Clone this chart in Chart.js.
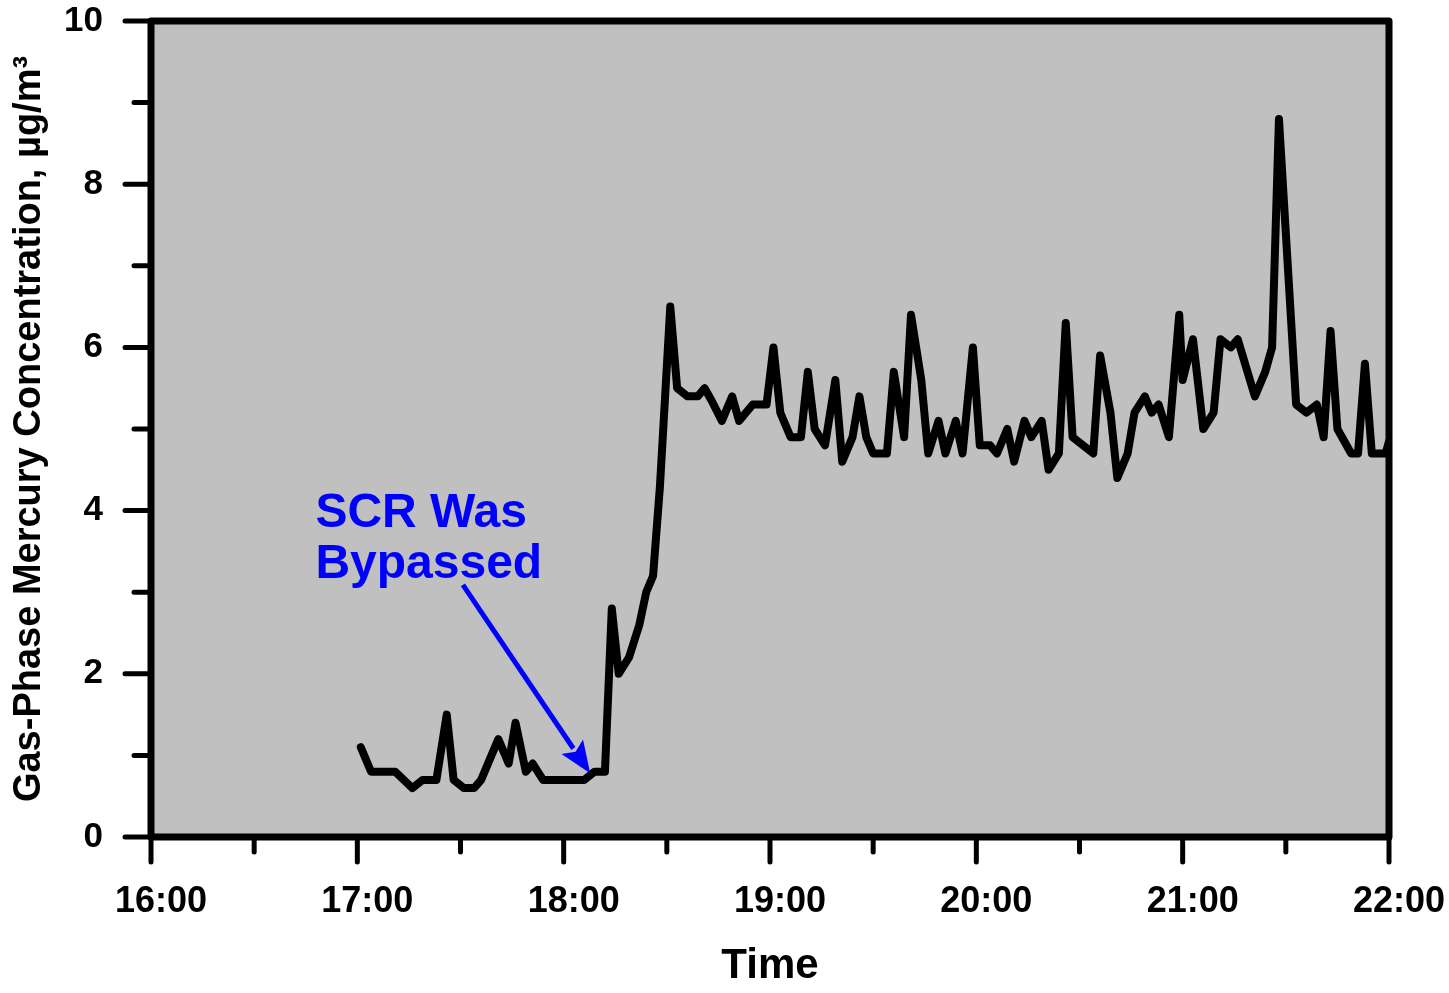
<!DOCTYPE html>
<html>
<head>
<meta charset="utf-8">
<script src="https://cdn.jsdelivr.net/npm/chart.js@4.4.1/dist/chart.umd.min.js"></script>
<style>
    html, body { margin: 0; padding: 0; background: #ffffff; }
    #wrap { width: 1449px; height: 993px; }
</style>
</head>
<body>
<div id="wrap"><canvas id="mercuryChart" width="1449" height="993"></canvas></div>
<script>
// Ölçüm zamanları (saat:dakika)
const times = ['17:01','17:04','17:11','17:16','17:19','17:23','17:26','17:28','17:31','17:34',
    '17:36','17:41','17:44','17:46','17:49','17:51','17:54','18:06','18:09','18:12',
    '18:14','18:16','18:19','18:22','18:24','18:26','18:28','18:31','18:33','18:36',
    '18:39','18:41','18:43','18:46','18:49','18:51','18:55','18:59','19:01','19:03',
    '19:06','19:09','19:11','19:13','19:16','19:19','19:21','19:24','19:26','19:28',
    '19:30','19:34','19:36','19:39','19:41','19:44','19:46','19:49','19:51','19:54',
    '19:56','19:59','20:01','20:04','20:06','20:09','20:11','20:14','20:16','20:19',
    '20:21','20:24','20:26','20:28','20:34','20:36','20:39','20:41','20:44','20:46',
    '20:49','20:51','20:53','20:56','20:59','21:00','21:03','21:06','21:09','21:11',
    '21:14','21:16','21:21','21:24','21:26','21:28','21:31','21:33','21:36','21:39',
    '21:41','21:43','21:45','21:49','21:51','21:53','21:55','21:59','22:00'];

// Gaz fazı cıva konsantrasyonu, µg/m3
const mercury = [1.1,0.8,0.8,0.6,0.7,0.7,1.5,0.7,0.6,0.6,
    0.7,1.2,0.9,1.4,0.8,0.9,0.7,0.7,0.8,0.8,
    2.8,2.0,2.2,2.6,3.0,3.2,4.3,6.5,5.5,5.4,
    5.4,5.5,5.35,5.1,5.4,5.1,5.3,5.3,6.0,5.2,
    4.9,4.9,5.7,5.0,4.8,5.6,4.6,4.9,5.4,4.9,
    4.7,4.7,5.7,4.9,6.4,5.6,4.7,5.1,4.7,5.1,
    4.7,6.0,4.8,4.8,4.7,5.0,4.6,5.1,4.9,5.1,
    4.5,4.7,6.3,4.9,4.7,5.9,5.2,4.4,4.7,5.2,
    5.4,5.2,5.3,4.9,6.4,5.6,6.1,5.0,5.2,6.1,
    6.0,6.1,5.4,5.7,6.0,8.8,6.7,5.3,5.2,5.3,
    4.9,6.2,5.0,4.7,4.7,5.8,4.7,4.7,4.85];

// Eksen etiketleri
const xTickLabels = ['16:00','17:00','18:00','19:00','20:00','21:00','22:00'];
const yTicks = [0, 2, 4, 6, 8, 10];
const yMinorTicks = [1, 3, 5, 7, 9];
const annotationLines = ['SCR Was', 'Bypassed'];

const FONT = "'Liberation Sans', Arial, sans-serif";

// "HH:MM" -> dakika
function toMinutes(t) {
    const [h, m] = t.split(':').map(Number);
    return h * 60 + m;
}

const xMajor = xTickLabels.map(toMinutes);
const xMinor = xMajor.slice(0, -1).map(v => v + 30);
const points = times.map((t, i) => ({ x: toMinutes(t), y: mercury[i] }));

// Gri arka plan, çerçeve, tik çizgileri ve not
const framePlugin = {
    id: 'frame',
    beforeDatasetsDraw(chart) {
        const { ctx, chartArea: a } = chart;
        ctx.save();
        ctx.fillStyle = '#c0c0c0';
        ctx.fillRect(a.left, a.top, a.right - a.left, a.bottom - a.top);
        ctx.restore();
    },
    afterDatasetsDraw(chart) {
        const { ctx, chartArea: a, scales } = chart;
        const x = scales.x, y = scales.y;
        ctx.save();

        // Not ve ok
        ctx.fillStyle = '#0000ff';
        ctx.strokeStyle = '#0000ff';
        ctx.font = "bold 48px " + FONT;
        ctx.textBaseline = 'alphabetic';
        ctx.textAlign = 'left';
        ctx.fillText(annotationLines[0], x.getPixelForValue(1007.8), y.getPixelForValue(3.80));
        ctx.fillText(annotationLines[1], x.getPixelForValue(1007.8), y.getPixelForValue(3.17));

        const x1 = x.getPixelForValue(1050.7), y1 = y.getPixelForValue(3.09);
        const x2 = x.getPixelForValue(1087.7), y2 = y.getPixelForValue(0.78);
        const ang = Math.atan2(y2 - y1, x2 - x1);
        const headLen = 32, headHalf = 13;
        const bx = x2 - headLen * Math.cos(ang), by = y2 - headLen * Math.sin(ang);
        ctx.lineWidth = 5;
        ctx.beginPath();
        ctx.moveTo(x1, y1);
        ctx.lineTo(bx + 2 * Math.cos(ang), by + 2 * Math.sin(ang));
        ctx.stroke();
        ctx.beginPath();
        ctx.moveTo(x2, y2);
        ctx.lineTo(bx - headHalf * Math.sin(ang), by + headHalf * Math.cos(ang));
        ctx.lineTo(bx + 6 * Math.cos(ang), by + 6 * Math.sin(ang));
        ctx.lineTo(bx + headHalf * Math.sin(ang), by - headHalf * Math.cos(ang));
        ctx.closePath();
        ctx.fill();

        // Çerçeve
        ctx.strokeStyle = '#000000';
        ctx.lineWidth = 7;
        ctx.lineJoin = 'round';
        ctx.strokeRect(a.left, a.top, a.right - a.left, a.bottom - a.top);

        // Tik çizgileri
        ctx.lineWidth = 5;
        ctx.lineCap = 'round';
        ctx.beginPath();
        xMajor.forEach(v => {
            const px = x.getPixelForValue(v);
            ctx.moveTo(px, a.bottom); ctx.lineTo(px, a.bottom + 25);
        });
        xMinor.forEach(v => {
            const px = x.getPixelForValue(v);
            ctx.moveTo(px, a.bottom); ctx.lineTo(px, a.bottom + 15);
        });
        yTicks.forEach(v => {
            const py = y.getPixelForValue(v);
            ctx.moveTo(a.left, py); ctx.lineTo(a.left - 26, py);
        });
        yMinorTicks.forEach(v => {
            const py = y.getPixelForValue(v);
            ctx.moveTo(a.left, py); ctx.lineTo(a.left - 17, py);
        });
        ctx.stroke();
        ctx.restore();
    }
};

// Grafiği başlat
function initializeMercuryChart() {
    const ctx = document.getElementById('mercuryChart').getContext('2d');
    new Chart(ctx, {
        type: 'line',
        data: {
            datasets: [{
                label: 'Gas-Phase Mercury',
                data: points,
                borderColor: '#000000',
                borderWidth: 8,
                borderJoinStyle: 'round',
                borderCapStyle: 'round',
                pointRadius: 0,
                fill: false,
                tension: 0
            }]
        },
        options: {
            responsive: false,
            animation: false,
            layout: { padding: { left: 0, top: 21, right: 60, bottom: 0 } },
            plugins: {
                legend: { display: false },
                tooltip: { enabled: false }
            },
            scales: {
                x: {
                    type: 'linear',
                    min: xMajor[0],
                    max: xMajor[xMajor.length - 1],
                    afterBuildTicks: scale => {
                        scale.ticks = xMajor.map(v => ({ value: v }));
                    },
                    afterFit: scale => {
                        scale.height = 156;
                        scale.paddingLeft = 0;
                        scale.paddingRight = 0;
                    },
                    grid: { display: false, drawTicks: false },
                    border: { display: false },
                    ticks: {
                        autoSkip: false,
                        maxRotation: 0,
                        padding: 43,
                        labelOffset: 10,
                        color: '#000000',
                        font: { family: FONT, size: 36, weight: 'bold' },
                        callback: v => xTickLabels[xMajor.indexOf(v)]
                    },
                    title: {
                        display: true,
                        text: 'Time',
                        color: '#000000',
                        padding: { top: 0, bottom: 1 },
                        font: { family: FONT, size: 42, weight: 'bold' }
                    }
                },
                y: {
                    min: 0,
                    max: 10,
                    afterBuildTicks: scale => {
                        scale.ticks = yTicks.map(v => ({ value: v }));
                    },
                    afterFit: scale => {
                        scale.width = 151;
                        scale.paddingTop = 0;
                        scale.paddingBottom = 0;
                    },
                    grid: { display: false, drawTicks: false },
                    border: { display: false },
                    ticks: {
                        padding: 48,
                        color: '#000000',
                        font: { family: FONT, size: 35, weight: 'bold' }
                    },
                    title: {
                        display: true,
                        text: 'Gas-Phase Mercury Concentration, µg/m³',
                        color: '#000000',
                        padding: { top: 7, bottom: 0 },
                        font: { family: FONT, size: 38, weight: 'bold' }
                    }
                }
            }
        },
        plugins: [framePlugin]
    });
}

document.addEventListener('DOMContentLoaded', () => {
    initializeMercuryChart();
});
</script>
</body>
</html>
